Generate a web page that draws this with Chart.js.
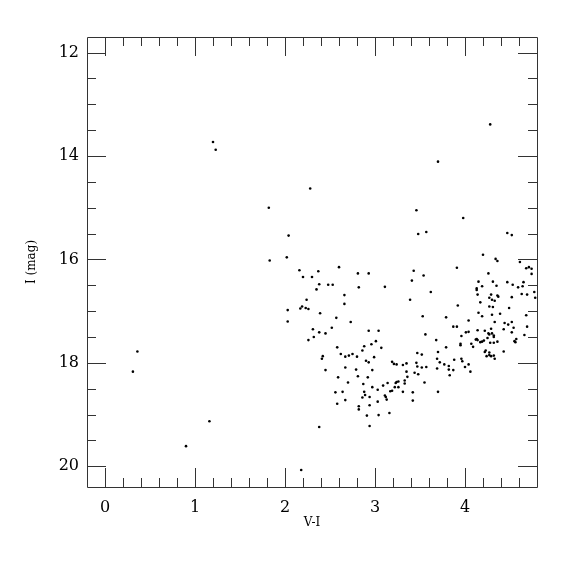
<!DOCTYPE html>
<html>
<head>
<meta charset="utf-8">
<script src="https://cdn.jsdelivr.net/npm/chart.js@4.4.0/dist/chart.umd.min.js"></script>
<style>
  html, body { margin: 0; padding: 0; background: #fff; }
  #wrap { width: 575px; height: 575px; }
</style>
</head>
<body>
<div id="wrap"><canvas id="cmd" width="575" height="575"></canvas></div>
<script>
// colour (V-I) and magnitude (I) of every star
const vi = [
  1.20, 1.23, 1.82, 0.36, 0.31, 1.16, 0.90, 2.18, 2.28, 2.04,
  1.83, 2.02, 2.16, 2.37, 2.20, 2.30, 2.60, 2.81, 2.93,
  // left / middle branch
  2.38, 2.35, 2.48, 2.53, 2.82, 3.11, 2.66, 2.66, 2.24, 2.19,
  2.17, 2.23, 2.26, 2.03, 2.03, 2.39, 2.57, 2.73, 2.31, 2.38,
  2.45, 2.52, 2.32, 2.26, 2.93, 3.04, 3.01, 2.96, 2.88, 2.86,
  3.07, 2.58, 2.62, 2.67, 2.71, 2.75, 2.80, 2.90, 2.93, 2.99,
  2.42, 2.41, 2.45, 2.67, 2.79, 2.97, 2.59, 2.81, 2.92, 2.70,
  2.87, 2.97, 3.03, 3.09, 3.14, 2.56, 2.64, 2.88, 2.89, 2.86,
  2.94, 3.03, 3.11, 3.12, 3.13, 2.67, 2.58, 2.82, 2.82, 2.94,
  2.91, 3.04, 3.16, 2.38, 2.94,
  3.19, 3.21, 3.24, 3.23, 3.24, 3.26, 3.22, 3.26, 3.17, 3.19,
  // red side, upper
  4.28, 3.70, 3.46, 3.98, 3.48, 3.57, 4.47, 4.52, 4.20, 4.34,
  4.36, 4.61, 3.91, 3.43, 3.54, 4.26, 4.68, 4.71, 4.74, 4.74,
  3.41, 3.62, 3.39, 4.15, 4.19, 4.31, 4.35, 4.47, 4.53, 4.59,
  4.64, 4.65, 4.13, 4.13, 4.14, 4.29, 4.36, 4.37, 4.27, 4.30,
  4.33, 4.17, 4.52, 4.63, 4.69, 4.77, 4.78,
  // red side, lower
  3.92, 4.27, 4.31, 4.49, 4.15, 4.19, 4.30, 4.39, 4.68, 3.53,
  3.79, 4.04, 4.33, 4.44, 4.48, 4.52, 4.54, 4.69, 3.87, 3.91,
  4.29, 4.43, 4.22, 4.14, 4.04, 4.01, 4.52, 4.26, 4.27, 4.30,
  4.32, 3.56, 3.96, 4.13, 4.12, 4.14, 4.17, 4.19, 4.21, 4.25,
  4.28, 4.32, 4.36, 4.32, 4.07, 4.09, 3.95, 3.95, 4.55, 4.56,
  4.57, 4.66, 3.68, 3.79, 3.70, 3.47, 3.52, 4.23, 4.22, 4.27,
  4.24, 4.27, 4.29, 4.32, 4.33, 4.43, 3.69, 3.88, 3.96, 3.97,
  3.72, 3.77, 4.04, 4.00, 3.82, 3.82, 3.31, 3.35, 3.46, 3.47,
  3.52, 3.57, 3.69,
  4.06, 3.87, 3.83, 3.33, 3.36, 3.33, 3.31, 3.35, 3.42, 3.42,
  3.55, 3.70, 3.44, 3.48
];
const iMag = [
  13.73, 13.88, 15.00, 17.78, 18.17, 19.13, 19.61, 20.07, 14.63, 15.54,
  16.02, 15.96, 16.21, 16.23, 16.34, 16.34, 16.15, 16.27, 16.27,
  // left / middle branch
  16.48, 16.58, 16.49, 16.49, 16.54, 16.53, 16.69, 16.86, 16.78, 16.91,
  16.95, 16.94, 16.96, 16.98, 17.20, 17.04, 17.13, 17.21, 17.35, 17.41,
  17.43, 17.32, 17.50, 17.56, 17.38, 17.38, 17.58, 17.64, 17.68, 17.76,
  17.71, 17.70, 17.83, 17.88, 17.86, 17.83, 17.88, 17.96, 17.99, 17.89,
  17.87, 17.92, 18.14, 18.09, 18.13, 18.14, 18.28, 18.26, 18.28, 18.38,
  18.41, 18.47, 18.52, 18.44, 18.39, 18.57, 18.56, 18.56, 18.62, 18.67,
  18.66, 18.75, 18.63, 18.66, 18.71, 18.72, 18.79, 18.84, 18.90, 18.82,
  19.02, 19.01, 18.97, 19.24, 19.22,
  17.98, 18.02, 18.03, 18.39, 18.37, 18.36, 18.47, 18.47, 18.55, 18.54,
  // red side, upper
  13.39, 14.11, 15.05, 15.20, 15.51, 15.47, 15.49, 15.53, 15.91, 15.99,
  16.03, 16.05, 16.16, 16.22, 16.31, 16.27, 16.17, 16.15, 16.18, 16.28,
  16.41, 16.63, 16.78, 16.43, 16.52, 16.43, 16.51, 16.44, 16.49, 16.54,
  16.52, 16.44, 16.56, 16.59, 16.68, 16.68, 16.70, 16.72, 16.74, 16.78,
  16.80, 16.83, 16.73, 16.67, 16.68, 16.63, 16.74,
  // red side, lower
  16.89, 16.91, 16.92, 16.94, 17.03, 17.10, 17.07, 17.05, 17.08, 17.10,
  17.12, 17.18, 17.21, 17.23, 17.26, 17.21, 17.32, 17.30, 17.30, 17.30,
  17.34, 17.35, 17.38, 17.37, 17.40, 17.41, 17.41, 17.43, 17.45, 17.43,
  17.47, 17.45, 17.48, 17.54, 17.55, 17.56, 17.60, 17.59, 17.57, 17.52,
  17.61, 17.61, 17.59, 17.50, 17.63, 17.69, 17.63, 17.66, 17.58, 17.60,
  17.54, 17.46, 17.56, 17.70, 17.79, 17.81, 17.84, 17.76, 17.79, 17.80,
  17.87, 17.85, 17.87, 17.86, 17.92, 17.78, 17.92, 17.94, 17.92, 17.97,
  17.99, 18.03, 18.03, 18.08, 18.06, 18.13, 18.04, 18.01, 18.00, 18.07,
  18.09, 18.08, 18.11,
  18.17, 18.14, 18.24, 18.34, 18.27, 18.40, 18.56, 18.17, 18.57, 18.73,
  18.38, 18.56, 18.19, 18.22
];

const xTickValues = [0, 1, 2, 3, 4];
const yTickValues = [12, 14, 16, 18, 20];
const xLimits = [-0.2, 4.8];
const yLimits = [11.7, 20.4];
const xMinorStep = 0.2;
const yMinorStep = 0.5;

const points = vi.map((v, i) => ({ x: v, y: iMag[i] }));
const serif = "'DejaVu Serif', 'Liberation Serif', serif";
const lineColor = '#333';

function minorValues(min, max, step) {
  const out = [];
  const first = Math.ceil(min / step - 1e-9);
  const last = Math.floor(max / step + 1e-9);
  for (let k = first; k <= last; k++) out.push(+(k * step).toFixed(4));
  return out;
}

// box + inward ticks on all four sides
const framePlugin = {
  id: 'frame',
  afterDraw(chart) {
    const { ctx, chartArea: a, scales } = chart;
    const majorLen = 19;
    const minorLen = 9;
    ctx.save();
    ctx.strokeStyle = lineColor;
    ctx.lineWidth = 1;
    ctx.beginPath();
    ctx.rect(a.left + 0.5, a.top + 0.5, a.right - a.left, a.bottom - a.top);

    minorValues(xLimits[0], xLimits[1], xMinorStep).forEach((v) => {
      if (v <= xLimits[0] + 1e-6 || v >= xLimits[1] - 1e-6) return;
      const px = Math.round(scales.x.getPixelForValue(v)) + 0.5;
      const len = xTickValues.includes(v) ? majorLen : minorLen;
      ctx.moveTo(px, a.bottom);
      ctx.lineTo(px, a.bottom - len);
      ctx.moveTo(px, a.top);
      ctx.lineTo(px, a.top + len);
    });
    minorValues(yLimits[0], yLimits[1], yMinorStep).forEach((v) => {
      if (v <= yLimits[0] + 1e-6 || v >= yLimits[1] - 1e-6) return;
      const py = Math.round(scales.y.getPixelForValue(v)) + 0.5;
      const len = yTickValues.includes(v) ? majorLen : minorLen;
      ctx.moveTo(a.left, py);
      ctx.lineTo(a.left + len, py);
      ctx.moveTo(a.right, py);
      ctx.lineTo(a.right - len, py);
    });
    ctx.stroke();
    ctx.restore();
  }
};

const chart = new Chart(document.getElementById('cmd'), {
  type: 'scatter',
  data: {
    datasets: [{
      data: points,
      pointRadius: 1.3,
      pointBorderWidth: 0,
      pointBackgroundColor: '#000',
      pointHoverRadius: 1.3
    }]
  },
  options: {
    responsive: false,
    animation: false,
    layout: { padding: { top: 37, right: 38, left: 0, bottom: 0 } },
    plugins: { legend: { display: false }, tooltip: { enabled: false } },
    scales: {
      x: {
        type: 'linear',
        min: xLimits[0],
        max: xLimits[1],
        afterBuildTicks: (axis) => { axis.ticks = xTickValues.map((v) => ({ value: v })); },
        afterFit: (axis) => { axis.height = 88; },
        grid: { display: false, drawTicks: false },
        border: { display: false },
        ticks: { color: '#000', padding: 11, maxRotation: 0, font: { family: serif, size: 16 } },
        title: { display: true, text: 'V-I', color: '#000', padding: { top: 0, bottom: 45 }, font: { family: serif, size: 12 } }
      },
      y: {
        type: 'linear',
        reverse: true,
        min: yLimits[0],
        max: yLimits[1],
        afterBuildTicks: (axis) => { axis.ticks = yTickValues.map((v) => ({ value: v })); },
        afterFit: (axis) => { axis.width = 87; },
        grid: { display: false, drawTicks: false },
        border: { display: false },
        ticks: { color: '#000', padding: 8, font: { family: serif, size: 16 } },
        title: { display: true, text: 'I (mag)', color: '#000', padding: { top: 25, bottom: 0 }, font: { family: serif, size: 12 } }
      }
    }
  },
  plugins: [framePlugin]
});
</script>
</body>
</html>
